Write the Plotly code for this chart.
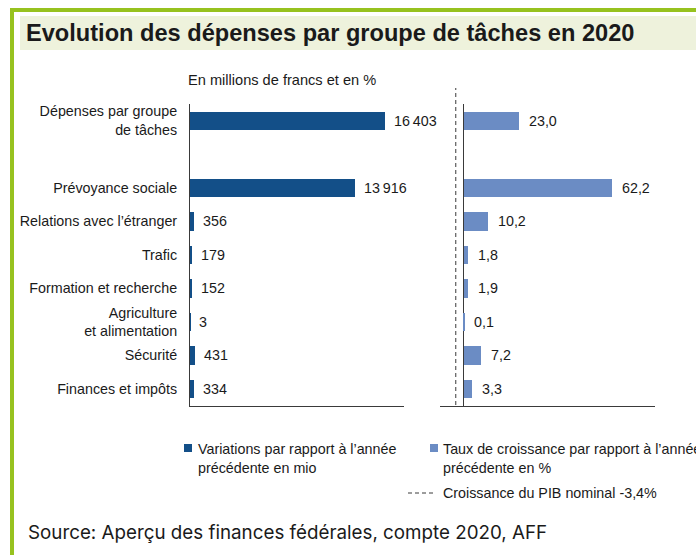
import plotly.graph_objects as go

# ---------------- data ----------------
categories = [
    "Dépenses par groupe<br>de tâches",
    "Prévoyance sociale",
    "Relations avec l’étranger",
    "Trafic",
    "Formation et recherche",
    "Agriculture<br>et alimentation",
    "Sécurité",
    "Finances et impôts",
]
change_mio = [16403, 13916, 356, 179, 152, 3, 431, 334]
growth_pct = [23.0, 62.2, 10.2, 1.8, 1.9, 0.1, 7.2, 3.3]
gdp_growth = -3.4
spacer = " "
category_order = [categories[0], spacer] + categories[1:]

title = "Evolution des dépenses par groupe de tâches en 2020"
subtitle = "En millions de francs et en %"
legend_1 = "Variations par rapport à l’année<br>précédente en mio"
legend_2 = "Taux de croissance par rapport à l’année<br>précédente en %"
legend_3 = "Croissance du PIB nominal -3,4%"
source = "Source: Aperçu des finances fédérales, compte 2020, AFF"

# ---------------- style ----------------
W, H = 696, 555
DARK = "#134f88"
LIGHT = "#6b8cc4"
GREEN = "#97c21f"
BAND = "#eef2dc"
AXIS = "#3a3a3a"
TXT = "#1a1a1a"
SANS = "Liberation Sans, Arial, sans-serif"
FS = 14.3


def px(x):
    return x / W


def py(y):
    return 1 - y / H


def fmt_int(v):
    return f"{v:,}".replace(",", "\u2009")


def fmt_pct(v):
    return f"{v:.1f}".replace(".", ",")


fig = go.Figure()
fig.add_trace(go.Bar(y=categories, x=change_mio, orientation="h",
                     marker=dict(color=DARK, line=dict(width=0)),
                     width=0.55, xaxis="x", yaxis="y", hoverinfo="skip"))
fig.add_trace(go.Bar(y=categories, x=growth_pct, orientation="h",
                     marker=dict(color=LIGHT, line=dict(width=0)),
                     width=0.55, xaxis="x2", yaxis="y2", hoverinfo="skip"))

ydom = [py(405.75), py(104)]
fig.update_layout(
    template="none",
    width=W, height=H, margin=dict(l=0, r=0, t=0, b=0, pad=0, autoexpand=False),
    paper_bgcolor="white", plot_bgcolor="rgba(0,0,0,0)",
    showlegend=False, bargap=0,
    font=dict(family=SANS, size=FS, color=TXT),
    xaxis=dict(domain=[px(190), px(404)], range=[0, 18000], showgrid=False,
               zeroline=False, showticklabels=False, ticks="", automargin=False,
               showline=True, linecolor=AXIS, linewidth=1, fixedrange=True),
    yaxis=dict(domain=ydom, type="category", categoryorder="array",
               categoryarray=category_order, autorange="reversed",
               showgrid=False, zeroline=False, ticks="", ticklabelstandoff=9,
               automargin=False,
               showline=True, linecolor=AXIS, linewidth=1,
               tickfont=dict(family=SANS, size=FS, color=TXT)),
    xaxis2=dict(domain=[px(440), px(655)], range=[-10, 80], anchor="y2",
                showgrid=False, zeroline=True, zerolinecolor=AXIS,
                zerolinewidth=1, showticklabels=False, ticks="", automargin=False,
                showline=True, linecolor=AXIS, linewidth=1),
    yaxis2=dict(domain=ydom, anchor="x2", type="category",
                categoryorder="array", categoryarray=category_order,
                autorange="reversed", showgrid=False, zeroline=False,
                automargin=False,
                showticklabels=False, ticks="", showline=False),
)

shapes = [
    # green frame
    dict(type="rect", xref="paper", yref="paper", x0=px(10), x1=px(700),
         y0=py(12), y1=py(8), fillcolor=GREEN, line=dict(width=0), layer="below"),
    dict(type="rect", xref="paper", yref="paper", x0=px(10), x1=px(14),
         y0=py(560), y1=py(8), fillcolor=GREEN, line=dict(width=0), layer="below"),
    # title band
    dict(type="rect", xref="paper", yref="paper", x0=px(20), x1=px(700),
         y0=py(50), y1=py(16), fillcolor=BAND, line=dict(width=0), layer="below"),
    # GDP growth reference line
    dict(type="line", xref="x2", yref="paper", x0=gdp_growth, x1=gdp_growth,
         y0=py(405), y1=py(88), line=dict(color=AXIS, width=1, dash="4px,3px")),
    # legend marks
    dict(type="rect", xref="paper", yref="paper", x0=px(184), x1=px(192),
         y0=py(452), y1=py(444), fillcolor=DARK, line=dict(width=0)),
    dict(type="rect", xref="paper", yref="paper", x0=px(430), x1=px(438),
         y0=py(452), y1=py(444), fillcolor=LIGHT, line=dict(width=0)),
    dict(type="line", xref="paper", yref="paper", x0=px(408), x1=px(436),
         y0=py(493), y1=py(493), line=dict(color=AXIS, width=1, dash="4px,3px")),
]

annotations = []
for c, v in zip(categories, change_mio):
    annotations.append(dict(x=v, y=c, xref="x", yref="y", text=fmt_int(v),
                            xanchor="left", yanchor="middle", xshift=7,
                            showarrow=False))
for c, v in zip(categories, growth_pct):
    annotations.append(dict(x=v, y=c, xref="x2", yref="y2", text=fmt_pct(v),
                            xanchor="left", yanchor="middle", xshift=8,
                            showarrow=False))

annotations += [
    dict(x=px(24), y=py(33), xref="paper", yref="paper", text=f"<b>{title}</b>",
         xanchor="left", yanchor="middle", showarrow=False,
         font=dict(family=SANS, size=23.6, color=TXT)),
    dict(x=px(186), y=py(80), xref="paper", yref="paper", text=subtitle,
         xanchor="left", yanchor="middle", showarrow=False,
         font=dict(family=SANS, size=14.6, color=TXT)),
    dict(x=px(196), y=py(458), xref="paper", yref="paper", text=legend_1,
         xanchor="left", yanchor="middle", showarrow=False, align="left"),
    dict(x=px(441), y=py(458), xref="paper", yref="paper", text=legend_2,
         xanchor="left", yanchor="middle", showarrow=False, align="left"),
    dict(x=px(441), y=py(493), xref="paper", yref="paper", text=legend_3,
         xanchor="left", yanchor="middle", showarrow=False, align="left"),
    dict(x=px(26), y=py(532), xref="paper", yref="paper", text=source,
         xanchor="left", yanchor="middle", showarrow=False,
         font=dict(family="Inter, Open Sans, sans-serif", size=18.8, color=TXT)),
]

fig.update_layout(shapes=shapes, annotations=annotations)
fig.write_html("out.html", config={"displayModeBar": False})
